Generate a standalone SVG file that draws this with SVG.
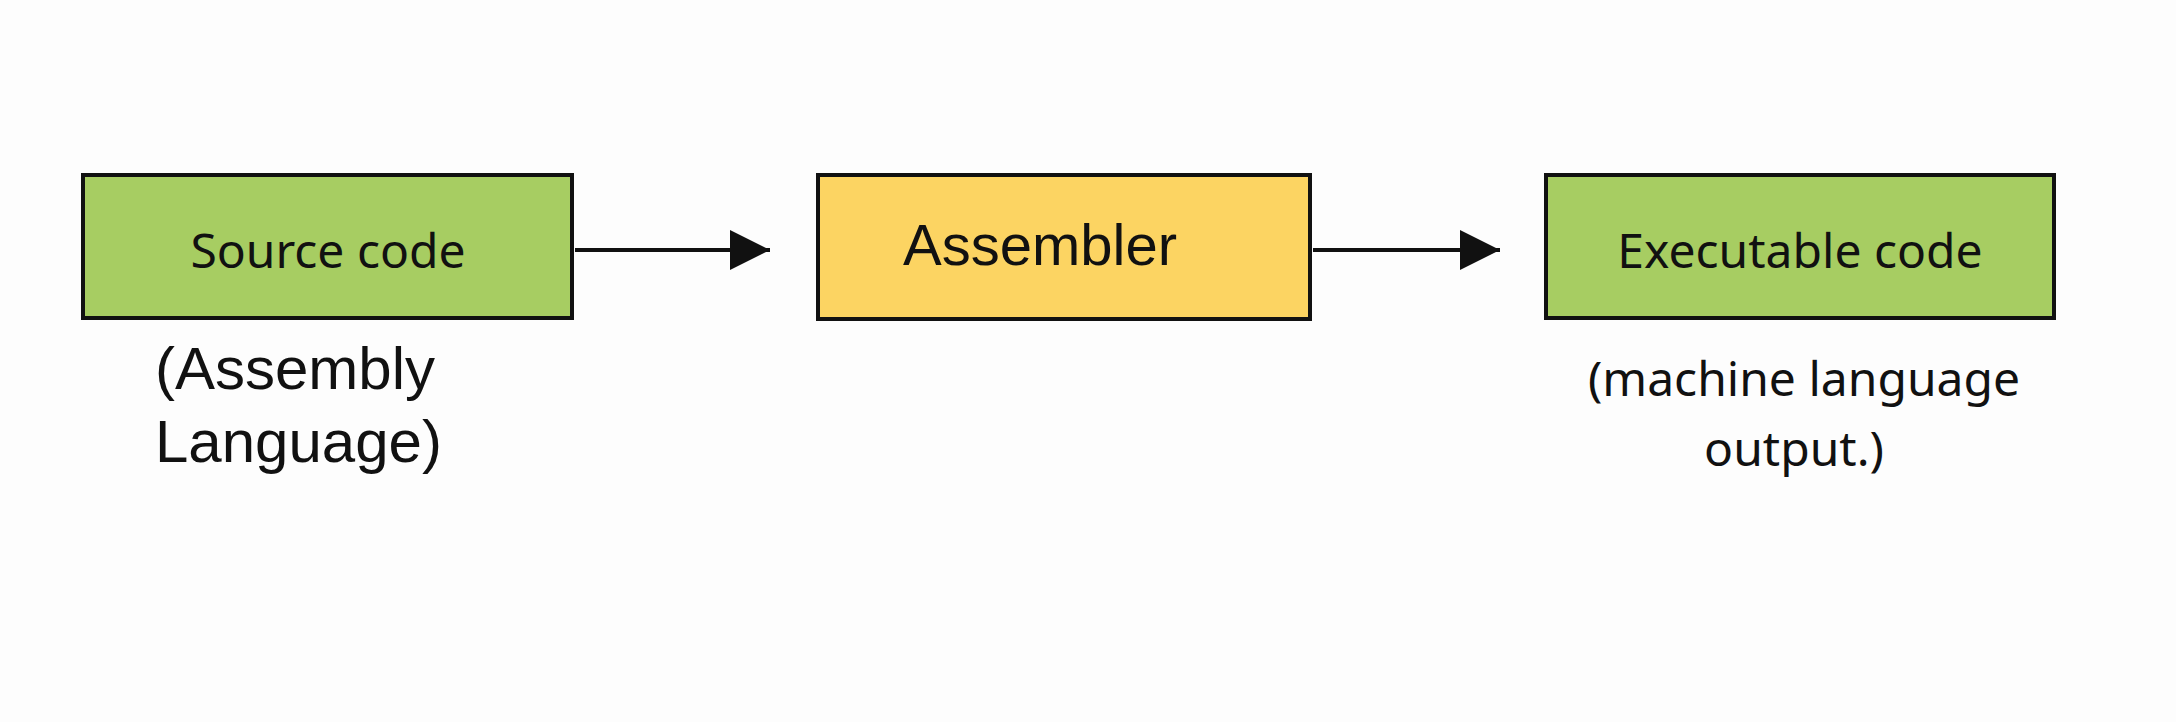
<svg xmlns="http://www.w3.org/2000/svg" width="2176" height="722" viewBox="0 0 2176 722">
<style>
.box{stroke:#111;stroke-width:4}
.hand{font-family:"Noto Sans","DejaVu Sans",sans-serif;font-size:48px;fill:#111}
.arial{font-family:"Liberation Sans",Arial,sans-serif;fill:#111}
.conn{stroke:#111;stroke-width:4;fill:none}
</style>
<defs><marker id="ah" markerWidth="12" markerHeight="10" refX="10" refY="5" orient="auto" markerUnits="strokeWidth"><path d="M0,0 L10,5 L0,10 z" fill="#111"/></marker></defs>
<rect width="2176" height="722" fill="#fdfdfd"/>
<g id="source">
<rect class="box" x="83" y="175" width="489" height="143" fill="#a7cd62"/>
<text class="hand" x="328" y="268" text-anchor="middle">Source code</text>
<text class="arial" x="155" y="389" font-size="60">(Assembly</text>
<text class="arial" x="155" y="462" font-size="60">Language)</text>
</g>
<g id="assembler">
<rect class="box" x="818" y="175" width="492" height="144" fill="#fcd462"/>
<text class="arial" x="1040" y="265" text-anchor="middle" font-size="58">Assembler</text>
</g>
<g id="exec">
<rect class="box" x="1546" y="175" width="508" height="143" fill="#a7cd62"/>
<text class="hand" x="1800" y="268" text-anchor="middle">Executable code</text>
<text class="hand" x="1804" y="396" text-anchor="middle">(machine language</text>
<text class="hand" x="1794" y="466" text-anchor="middle">output.)</text>
</g>
<g id="connectors">
<line class="conn" x1="575" y1="250" x2="770" y2="250" marker-end="url(#ah)"/>
<line class="conn" x1="1313" y1="250" x2="1500" y2="250" marker-end="url(#ah)"/>
</g>
</svg>
